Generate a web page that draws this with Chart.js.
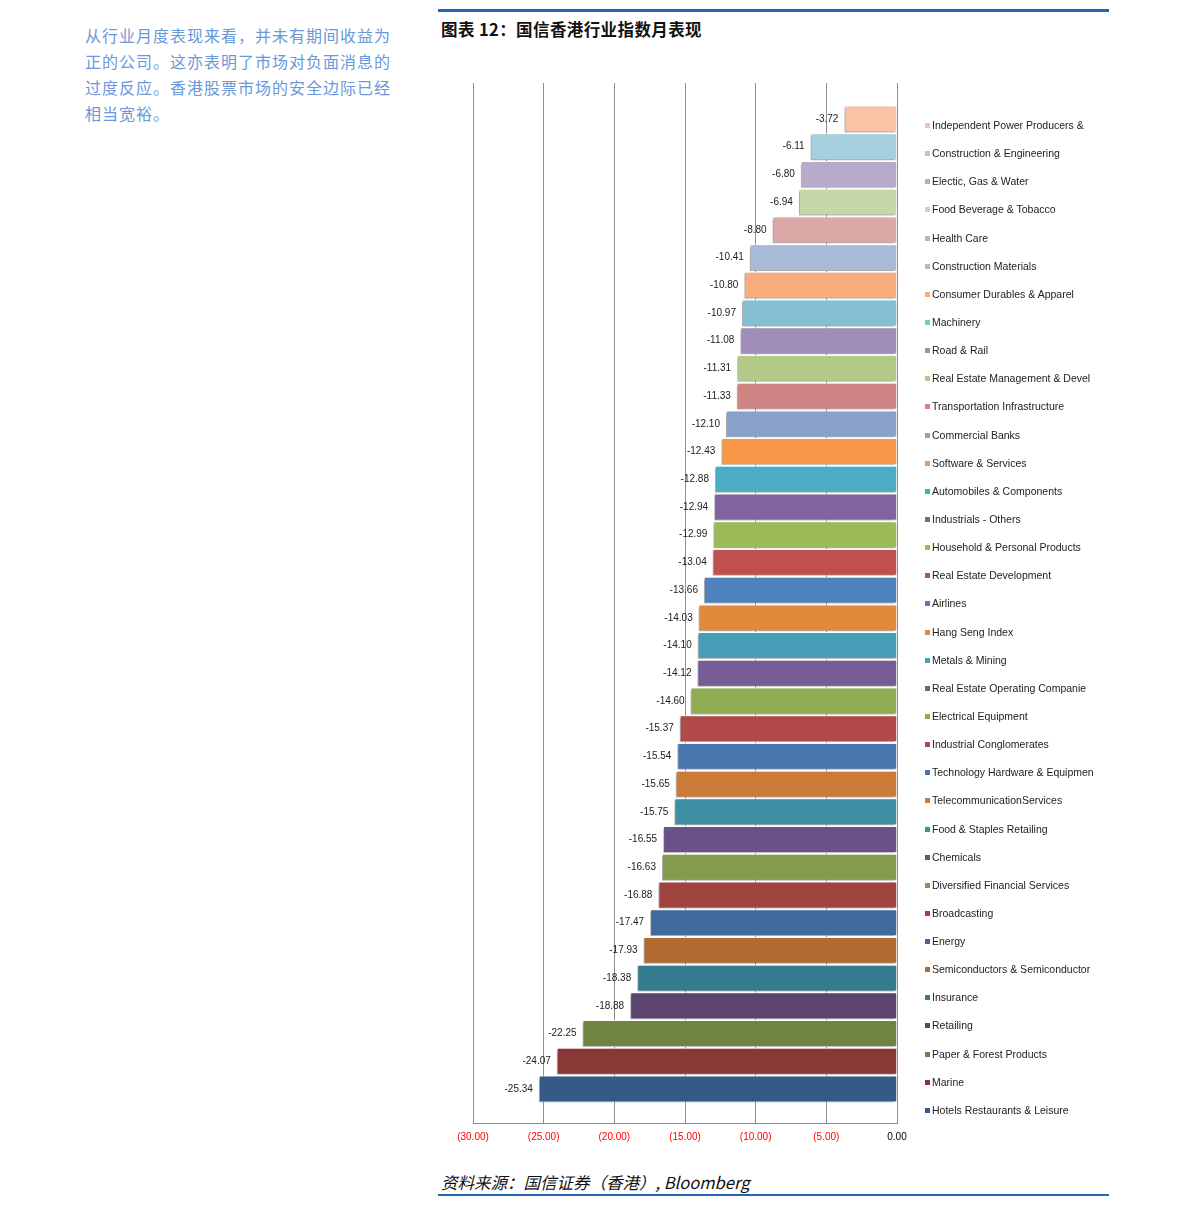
<!DOCTYPE html>
<html>
<head>
<meta charset="utf-8">
<script src="https://cdn.jsdelivr.net/npm/chart.js@4.4.1/dist/chart.umd.min.js"></script>
<style>
  body { margin: 0; background: #fff; width: 1191px; height: 1212px; position: relative; overflow: hidden; }
  .intro { position: absolute; left: 85px; top: 22px; font: 16px/26px "Noto Sans CJK SC", sans-serif; color: #6a98d8; letter-spacing: 1px; }
  .rule { position: absolute; left: 438px; width: 671px; background: #2467b1; }
  .title { position: absolute; left: 441px; top: 17px; font: bold 16.5px "Noto Sans CJK SC", sans-serif; color: #111; letter-spacing: 0.4px; }
  .source { position: absolute; left: 441px; top: 1170px; font: italic 16.5px "Noto Sans CJK SC", "Liberation Sans", sans-serif; color: #111; }
  #chart { position: absolute; left: 440px; top: 50px; }
  .legend { position: absolute; left: 925px; top: 0; font: 10.5px "Liberation Sans", Arial, sans-serif; color: #222; }
  .legend div { position: absolute; white-space: nowrap; line-height: 12px; }
  .legend span { display: inline-block; width: 5px; height: 5px; margin-right: 2px; vertical-align: 1px; }
</style>
</head>
<body>
<div class="intro">从行业月度表现来看，并未有期间收益为<br>正的公司。这亦表明了市场对负面消息的<br>过度反应。香港股票市场的安全边际已经<br>相当宽裕。</div>
<div class="rule" style="top:9px;height:3px"></div>
<div class="title">图表 12：国信香港行业指数月表现</div>
<canvas id="chart" width="500" height="1110"></canvas>
<div class="legend" id="legend"></div>
<div class="source">资料来源：国信证券（香港）, Bloomberg</div>
<div class="rule" style="top:1194px;height:2px"></div>
<script>
const categories = [
  'Independent Power Producers &', 'Construction & Engineering', 'Electic, Gas & Water',
  'Food Beverage & Tobacco', 'Health Care', 'Construction Materials',
  'Consumer Durables & Apparel', 'Machinery', 'Road & Rail',
  'Real Estate Management & Devel', 'Transportation Infrastructure', 'Commercial Banks',
  'Software & Services', 'Automobiles & Components', 'Industrials - Others',
  'Household & Personal Products', 'Real Estate Development', 'Airlines',
  'Hang Seng Index', 'Metals & Mining', 'Real Estate Operating Companie',
  'Electrical Equipment', 'Industrial Conglomerates', 'Technology Hardware & Equipmen',
  'TelecommunicationServices', 'Food & Staples Retailing', 'Chemicals',
  'Diversified Financial Services', 'Broadcasting', 'Energy',
  'Semiconductors & Semiconductor', 'Insurance', 'Retailing',
  'Paper & Forest Products', 'Marine', 'Hotels Restaurants & Leisure'
];
const returns = [
  -3.72, -6.11, -6.80, -6.94, -8.80, -10.41,
  -10.80, -10.97, -11.08, -11.31, -11.33, -12.10,
  -12.43, -12.88, -12.94, -12.99, -13.04, -13.66,
  -14.03, -14.10, -14.12, -14.60, -15.37, -15.54,
  -15.65, -15.75, -16.55, -16.63, -16.88, -17.47,
  -17.93, -18.38, -18.88, -22.25, -24.07, -25.34
];
const barColors = [
  '#f9c4a5', '#a6cfdd', '#b8abc9', '#c8d7aa', '#dba8a7', '#a9b9d8',
  '#f9ad7f', '#85bfd2', '#a08eb9', '#b2c988', '#cf8583', '#88a2cb',
  '#f79646', '#4bacc6', '#8064a2', '#9bbb59', '#c0504d', '#4f81bd',
  '#e2893c', '#469fb7', '#765c95', '#8fac52', '#b04947', '#4876ae',
  '#cc7a37', '#3e8ea4', '#6a5187', '#829c4b', '#9f4240', '#416a9c',
  '#b16a2f', '#367a8d', '#5b456f', '#6e8541', '#883835', '#355a88'
];
const xTicks = [-30, -25, -20, -15, -10, -5, 0];

const fmtTick = (v) => (v < 0 ? '(' + (-v).toFixed(2) + ')' : v.toFixed(2));

const shadowPlugin = {
  id: 'barShadow',
  beforeDatasetsDraw(chart) {
    const ctx = chart.ctx;
    ctx.save();
    ctx.shadowColor = 'rgba(0,0,0,0.35)';
    ctx.shadowOffsetX = -1.5;
    ctx.shadowOffsetY = 1.5;
    ctx.shadowBlur = 2;
  },
  afterDatasetsDraw(chart) {
    const ctx = chart.ctx;
    ctx.restore();
    ctx.save();
    ctx.font = '10px "Liberation Sans", Arial, sans-serif';
    ctx.fillStyle = '#222';
    ctx.textAlign = 'right';
    ctx.textBaseline = 'middle';
    chart.getDatasetMeta(0).data.forEach((bar, i) => {
      ctx.fillText(returns[i].toFixed(2), bar.x - 6, bar.y);
    });
    ctx.restore();
  }
};

new Chart(document.getElementById('chart').getContext('2d'), {
  type: 'bar',
  data: {
    datasets: [{
      data: returns.map((v, i) => ({ x: v, y: i })),
      backgroundColor: barColors,
      borderColor: 'rgba(255,255,255,0.9)',
      borderWidth: 1,
      borderSkipped: 'start',
      categoryPercentage: 1,
      barPercentage: 0.97
    }]
  },
  options: {
    indexAxis: 'y',
    responsive: false,
    animation: false,
    layout: { padding: { left: 33, right: 43, top: 33, bottom: 7 } },
    plugins: { legend: { display: false }, tooltip: { enabled: false } },
    scales: {
      x: {
        type: 'linear',
        min: -30,
        max: 0,
        afterBuildTicks: (scale) => { scale.ticks = xTicks.map((v) => ({ value: v })); },
        afterFit: (scale) => { scale.height = 30; },
        grid: { color: '#8e8e8e', lineWidth: 1, drawTicks: false },
        border: { display: true, color: '#8e8e8e' },
        ticks: {
          padding: 8,
          maxRotation: 0,
          font: { family: '"Liberation Sans", Arial, sans-serif', size: 10 },
          color: (c) => (c.tick.value < 0 ? '#ff0000' : '#000000'),
          callback: fmtTick
        }
      },
      y: {
        type: 'linear',
        reverse: true,
        offset: false,
        min: -1.3,
        max: 36.23,
        display: false
      }
    }
  },
  plugins: [shadowPlugin]
});

const legend = document.getElementById('legend');
categories.forEach((name, i) => {
  const item = document.createElement('div');
  item.style.top = (125 + i * 28.14 - 6) + 'px';
  item.innerHTML = '<span style="background:' + barColors[i] + '"></span>';
  item.appendChild(document.createTextNode(name));
  legend.appendChild(item);
});
</script>
</body>
</html>
